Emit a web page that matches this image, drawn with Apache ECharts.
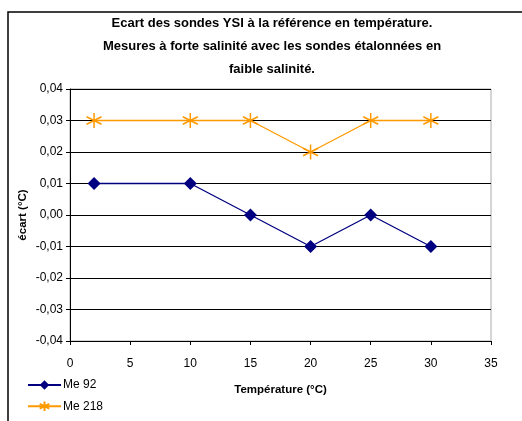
<!DOCTYPE html>
<html><head><meta charset="utf-8">
<script src="https://cdn.jsdelivr.net/npm/echarts@6/dist/echarts.min.js"></script>
<style>html,body{margin:0;padding:0;background:#fff}#c{width:522px;height:421px}</style>
</head><body><div id="c"></div>
<script>
const temperatures = [2, 10, 15, 20, 25, 30];
const me92 = [0.01, 0.01, 0.00, -0.01, 0.00, -0.01];
const me218 = [0.03, 0.03, 0.03, 0.02, 0.03, 0.03];
const seriesNames = ['Me 92', 'Me 218'];
const titleText = 'Ecart des sondes YSI à la référence en température.\nMesures à forte salinité avec les sondes étalonnées en\nfaible salinité.';
const xTitle = 'Température (°C)';
const yTitle = 'écart (°C)';

const star = 'path://M5 0 L5 10 M0.7 2.5 L9.3 7.5 M0.7 7.5 L9.3 2.5';
const font = 'Liberation Sans, Arial, sans-serif';
const chart = echarts.init(document.getElementById('c'));
chart.setOption({
  animation: false,
  textStyle: {fontFamily: font},
  graphic: [{type: 'rect', shape: {x: 8, y: 12, width: 530, height: 430}, style: {fill: 'none', stroke: '#000', lineWidth: 1.5}, z: 0}],
  title: {text: titleText, left: 267, top: 7, textAlign: 'center',
    textStyle: {fontFamily: font, fontSize: 13, fontWeight: 'bold', color: '#000', lineHeight: 23}},
  grid: {left: 70, right: 31, top: 89, bottom: 80, show: true, borderColor: '#aaa', borderWidth: 1},
  legend: {orient: 'vertical', left: 27, top: 379, height: 60, padding: 0, itemWidth: 33, itemHeight: 12, itemGap: 8,
    textStyle: {fontFamily: font, fontSize: 12, color: '#000', padding: [0, 0, 0, -3]}, data: seriesNames},
  xAxis: {type: 'value', min: 0, max: 35, interval: 5,
    name: xTitle, nameLocation: 'middle', nameGap: 43, nameMoveOverlap: false,
    nameTextStyle: {fontFamily: font, fontSize: 11.5, fontWeight: 'bold', color: '#000'},
    axisLine: {onZero: false, lineStyle: {color: '#000', width: 1}},
    axisTick: {show: true, length: 4, inside: false, lineStyle: {color: '#000'}},
    axisLabel: {fontFamily: font, fontSize: 12, color: '#000', margin: 17},
    splitLine: {show: false}},
  yAxis: {type: 'value', min: -0.04, max: 0.04, interval: 0.01,
    name: yTitle, nameLocation: 'middle', nameGap: 41, nameRotate: 90, nameMoveOverlap: false,
    nameTextStyle: {fontFamily: font, fontSize: 11.5, fontWeight: 'bold', color: '#000'},
    axisLine: {show: true, lineStyle: {color: '#000', width: 1}},
    axisTick: {show: true, length: 4, lineStyle: {color: '#000'}},
    axisLabel: {fontFamily: font, fontSize: 12, color: '#000', margin: 7,
      formatter: v => v.toFixed(2).replace('.', ',')},
    splitLine: {show: true, lineStyle: {color: '#000', width: 1}}},
  series: [
    {name: seriesNames[0], type: 'line', data: temperatures.map((t, i) => [t, me92[i]]),
      symbol: 'diamond', symbolSize: 13, itemStyle: {color: '#000080'},
      lineStyle: {color: '#000080', width: 1.3}},
    {name: seriesNames[1], type: 'line', data: temperatures.map((t, i) => [t, me218[i]]),
      symbol: star, symbolSize: 15, itemStyle: {color: 'none', borderColor: '#FF9900', borderWidth: 1.5},
      lineStyle: {color: '#FF9900', width: 1.3}}
  ]
});
</script></body></html>
